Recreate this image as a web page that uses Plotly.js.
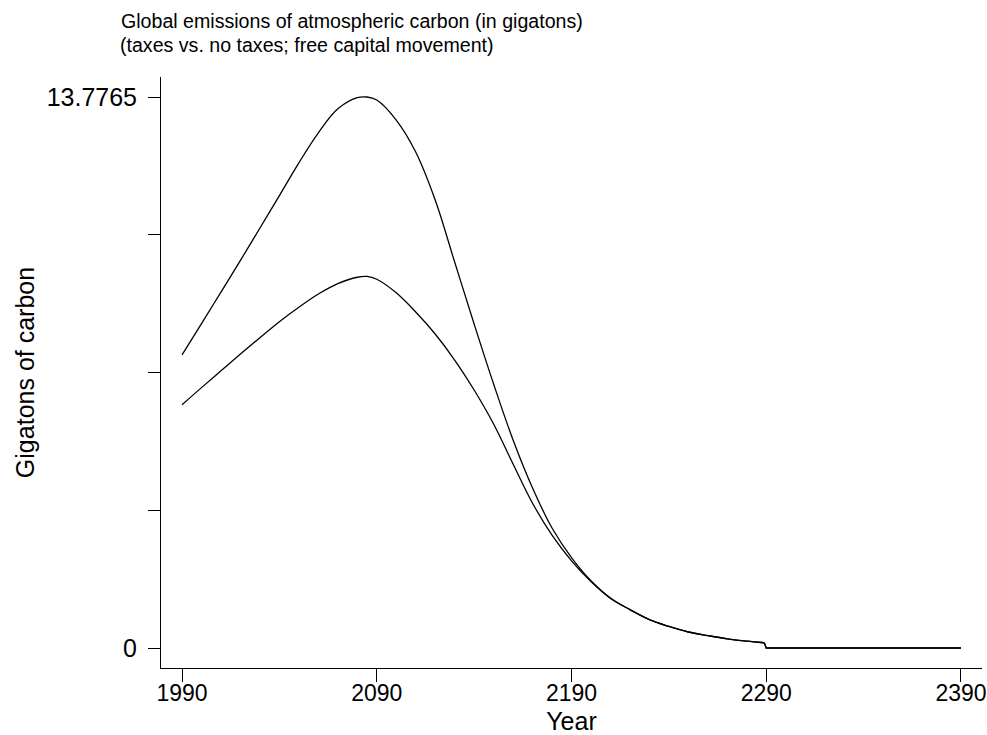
<!DOCTYPE html>
<html>
<head>
<meta charset="utf-8">
<script src="https://cdn.plot.ly/plotly-3.0.1.min.js"></script>
<style>html,body{margin:0;padding:0;background:#fff;}#chart{width:987px;height:735px;}</style>
</head>
<body>
<div id="chart"></div>
<script>
// Years (simulation horizon)
const years = [1990, 2000, 2010, 2020, 2030, 2040, 2050, 2060, 2070, 2080, 2085, 2090, 2100, 2110, 2120, 2130, 2140, 2150, 2160, 2170, 2180, 2190, 2200, 2210, 2220, 2230, 2240, 2250, 2260, 2270, 2280, 2289, 2290, 2390];
// Emissions without taxes (gigatons of carbon)
const noTaxes = [7.33, 8.11, 8.90, 9.69, 10.50, 11.31, 12.13, 12.88, 13.48, 13.76, 13.7765, 13.70, 13.20, 12.40, 11.20, 9.65, 8.10, 6.60, 5.20, 4.00, 3.00, 2.26, 1.68, 1.25, 0.96, 0.71, 0.54, 0.40, 0.31, 0.23, 0.17, 0.13, 0, 0];
// Emissions with taxes (gigatons of carbon)
const withTaxes = [6.08, 6.51, 6.93, 7.35, 7.76, 8.16, 8.52, 8.85, 9.11, 9.27, 9.29, 9.22, 8.88, 8.40, 7.85, 7.20, 6.45, 5.60, 4.60, 3.62, 2.82, 2.18, 1.66, 1.24, 0.96, 0.71, 0.54, 0.40, 0.31, 0.23, 0.17, 0.13, 0, 0];
const xTicks = [1990, 2090, 2190, 2290, 2390];
const yMax = 13.7765;
const yTicks = [0, yMax / 4, yMax / 2, 3 * yMax / 4, yMax];
const yTickText = ['0', '', '', '', '13.7765'];
const titleLine1 = 'Global emissions of atmospheric carbon (in gigatons)';
const titleLine2 = '(taxes vs. no taxes; free capital movement)';

const font = 'Liberation Sans, Arial, Helvetica, sans-serif';
// smooth part of each path up to the last simulated year, straight segments afterwards
const cut = years.indexOf(2289);
function parts(series, name) {
  return [
    {x: years.slice(0, cut + 1), y: series.slice(0, cut + 1), type: 'scatter', mode: 'lines',
     line: {color: '#000', width: 1.3, shape: 'spline', smoothing: 1}, name: name, hoverinfo: 'skip'},
    {x: years.slice(cut), y: series.slice(cut), type: 'scatter', mode: 'lines',
     line: {color: '#000', width: 1.3, shape: 'linear'}, name: name, hoverinfo: 'skip'}
  ];
}
const traces = [...parts(noTaxes, 'No taxes'), ...parts(withTaxes, 'Taxes')];
const layout = {
  width: 987, height: 735,
  margin: {l: 161, r: 5, t: 77, b: 67, pad: 0},
  paper_bgcolor: '#fff', plot_bgcolor: '#fff',
  showlegend: false,
  font: {family: font, color: '#000', size: 25},
  title: {
    text: titleLine1,
    x: 121 / 987, xanchor: 'left', xref: 'container',
    y: 1 - 21 / 735, yanchor: 'middle', yref: 'container',
    font: {family: font, size: 19.6, color: '#000'}
  },
  annotations: [{
    text: titleLine2, xref: 'paper', yref: 'paper',
    x: (118 - 161) / 821, xanchor: 'left',
    y: (668 - 45) / 591, yanchor: 'middle',
    showarrow: false, font: {family: font, size: 19.6, color: '#000'}
  }],
  xaxis: {
    range: [1979.2, 2400.8], tickmode: 'array', tickvals: xTicks,
    ticks: 'outside', ticklen: 13, tickwidth: 1, tickcolor: '#000',
    showline: true, linecolor: '#000', linewidth: 1,
    showgrid: false, zeroline: false,
    tickfont: {size: 23}, ticklabelstandoff: -9, ticklabeloverflow: 'allow',
    title: {text: 'Year', font: {size: 25}, standoff: 8}
  },
  yaxis: {
    range: [-0.5, 14.2765], tickmode: 'array', tickvals: yTicks, ticktext: yTickText,
    ticks: 'outside', ticklen: 12, tickwidth: 1, tickcolor: '#000',
    showline: true, linecolor: '#000', linewidth: 1,
    showgrid: false, zeroline: false,
    tickfont: {size: 25}, ticklabelstandoff: 6,
    title: {text: 'Gigatons of carbon', font: {size: 25}, standoff: 4}
  }
};
Plotly.newPlot('chart', traces, layout, {staticPlot: true, displayModeBar: false});
</script>
</body>
</html>
